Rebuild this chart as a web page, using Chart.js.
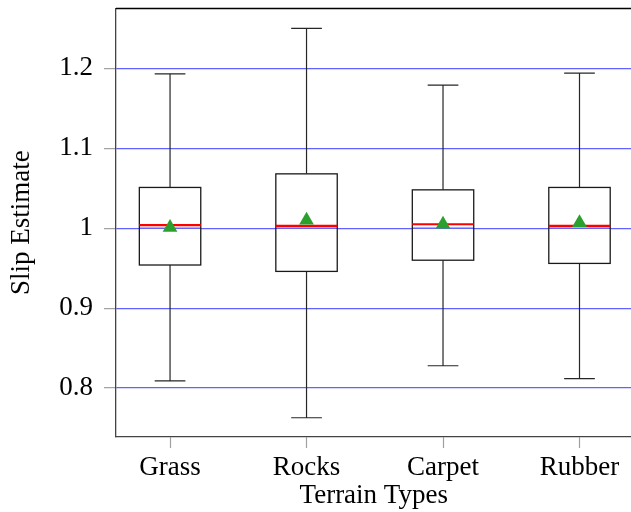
<!DOCTYPE html>
<html>
<head>
<meta charset="utf-8">
<script src="https://cdn.jsdelivr.net/npm/chart.js@4/dist/chart.umd.min.js"></script>
<style>
html,body{margin:0;padding:0;background:#fff;overflow:hidden;width:631px;height:512px;}
canvas{display:block;}
</style>
</head>
<body>
<canvas id="c" width="640" height="512"></canvas>
<script>
const categories = ["Grass", "Rocks", "Carpet", "Rubber"];
const whiskerLow  = [0.809, 0.763, 0.828, 0.812];
const q1          = [0.954, 0.946, 0.960, 0.956];
const median      = [1.004, 1.003, 1.005, 1.003];
const q3          = [1.051, 1.068, 1.048, 1.051];
const whiskerHigh = [1.193, 1.250, 1.179, 1.194];
const mean        = [1.001, 1.010, 1.005, 1.007];
const yTicks      = [0.8, 0.9, 1.0, 1.1, 1.2];

const FONT = "'Liberation Serif', 'Times New Roman', serif";
const BOX_HALF = 0.225;
const CAP_HALF = 0.1125;

const boxPlugin = {
  id: 'boxes',
  beforeDatasetsDraw(chart) {
    const ctx = chart.ctx, xs = chart.scales.x, ys = chart.scales.y;
    const ca = chart.chartArea;
    ctx.save();
    categories.forEach((c, i) => {
      const xc = xs.getPixelForValue(i + 1);
      const xl = xs.getPixelForValue(i + 1 - BOX_HALF);
      const xr = xs.getPixelForValue(i + 1 + BOX_HALF);
      const cl = xs.getPixelForValue(i + 1 - CAP_HALF);
      const cr = xs.getPixelForValue(i + 1 + CAP_HALF);
      const yLo = ys.getPixelForValue(whiskerLow[i]);
      const yQ1 = ys.getPixelForValue(q1[i]);
      const yMed = ys.getPixelForValue(median[i]);
      const yQ3 = ys.getPixelForValue(q3[i]);
      const yHi = ys.getPixelForValue(whiskerHigh[i]);
      ctx.strokeStyle = '#262626';
      ctx.lineWidth = 1.2;
      ctx.beginPath();
      ctx.moveTo(xc, yQ3); ctx.lineTo(xc, yHi);
      ctx.moveTo(cl, yHi); ctx.lineTo(cr, yHi);
      ctx.moveTo(xc, yQ1); ctx.lineTo(xc, yLo);
      ctx.moveTo(cl, yLo); ctx.lineTo(cr, yLo);
      ctx.stroke();
      ctx.fillStyle = '#ffffff';
      ctx.fillRect(xl, yQ3, xr - xl, yQ1 - yQ3);
      ctx.strokeStyle = 'rgba(70,70,255,0.85)';
      ctx.lineWidth = 1.3;
      yTicks.forEach(t => {
        const yy = ys.getPixelForValue(t);
        if (yy > yQ3 && yy < yQ1) {
          ctx.beginPath(); ctx.moveTo(xl, yy); ctx.lineTo(xr, yy); ctx.stroke();
        }
      });
      ctx.strokeStyle = '#1a1a1a';
      ctx.lineWidth = 1.3;
      ctx.strokeRect(xl, yQ3, xr - xl, yQ1 - yQ3);
      ctx.strokeStyle = '#ff0000';
      ctx.lineWidth = 2.2;
      ctx.beginPath();
      ctx.moveTo(xl, yMed); ctx.lineTo(xr, yMed);
      ctx.stroke();
    });
    ctx.strokeStyle = '#000';
    ctx.lineWidth = 1.3;
    ctx.beginPath();
    ctx.moveTo(ca.left, ca.top); ctx.lineTo(ca.right, ca.top);
    ctx.stroke();
    ctx.restore();
  }
};

new Chart(document.getElementById('c'), {
  type: 'scatter',
  data: {
    datasets: [{
      label: 'Mean',
      data: mean.map((m, i) => ({ x: i + 1, y: m })),
      pointStyle: 'triangle',
      pointRadius: 8.5,
      pointHoverRadius: 8.5,
      backgroundColor: '#2ca02c',
      borderColor: '#2ca02c',
      borderWidth: 0
    }]
  },
  options: {
    responsive: false,
    animation: false,
    events: [],
    layout: { padding: { top: 7, right: 0, left: 0, bottom: 0 } },
    plugins: { legend: { display: false }, tooltip: { enabled: false } },
    scales: {
      x: {
        type: 'linear',
        min: 0.604,
        max: 4.381,
        afterBuildTicks: a => { a.ticks = categories.map((c, i) => ({ value: i + 1 })); },
        afterFit: a => { a.height = 75; a.paddingLeft = 0; a.paddingRight = 0; },
        ticks: {
          callback: v => categories[Math.round(v) - 1],
          font: { family: FONT, size: 27 },
          color: '#000',
          padding: 4,
          maxRotation: 0,
          autoSkip: false
        },
        grid: {
          drawOnChartArea: false,
          tickLength: 11,
          tickColor: '#a0a0a0',
          tickWidth: 1.2
        },
        border: { color: '#444', width: 1.3 },
        title: {
          display: true,
          text: 'Terrain Types',
          font: { family: FONT, size: 27 },
          color: '#000',
          padding: { top: 0, bottom: 0 }
        }
      },
      y: {
        type: 'linear',
        min: 0.7389,
        max: 1.2748,
        afterBuildTicks: a => { a.ticks = yTicks.map(v => ({ value: v })); },
        afterFit: a => { a.width = 116; a.paddingTop = 0; a.paddingBottom = 0; },
        ticks: {
          callback: v => String(Math.round(v * 10) / 10),
          font: { family: FONT, size: 27 },
          color: '#000',
          padding: 11
        },
        grid: {
          color: 'rgba(70,70,255,0.85)',
          lineWidth: 1.3,
          tickLength: 12,
          tickColor: '#a0a0a0',
          tickWidth: 1.2
        },
        border: { color: '#444', width: 1.3 },
        title: {
          display: true,
          text: 'Slip Estimate',
          font: { family: FONT, size: 27 },
          color: '#000',
          padding: { top: 6, bottom: 0 }
        }
      }
    }
  },
  plugins: [boxPlugin]
});
</script>
</body>
</html>
